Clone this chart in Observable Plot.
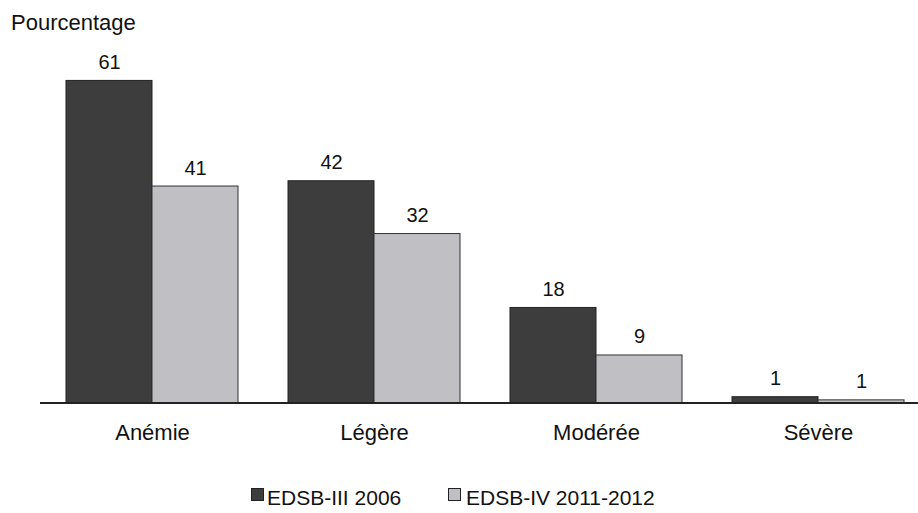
<!DOCTYPE html>
<html>
<head>
<meta charset="utf-8">
<script src="https://cdn.jsdelivr.net/npm/d3@7"></script>
<script src="https://cdn.jsdelivr.net/npm/@observablehq/plot@0.6"></script>
<style>
  html, body { margin: 0; padding: 0; background: #fff; }
  #wrap { position: relative; width: 918px; height: 513px; font-family: "Liberation Sans", Arial, sans-serif; color: #111; }
  #title { position: absolute; left: 11px; top: 12px; font-size: 22px; line-height: 1; }
  #chart { position: absolute; left: 0; top: 0; }
  .leg { position: absolute; top: 487px; font-size: 21px; line-height: 1; white-space: nowrap; }
  .sw { position: absolute; width: 11px; height: 11px; border: 1px solid #222; top: 1px; }
  .lt { position: absolute; }
</style>
</head>
<body>
<div id="wrap">
  <div id="chart"></div>
  <div id="title">Pourcentage</div>
  <div id="legend"></div>
</div>
<script>
const categories = ["Anémie", "Légère", "Modérée", "Sévère"];
const series = ["EDSB-III 2006", "EDSB-IV 2011-2012"];
const values2006 = [61, 42, 18, 1.1];
const values2011 = [41, 32, 9, 0.5];
const colors = ["#3d3d3d", "#c0c0c4"];

const rows2006 = categories.map((c, i) => ({category: c, value: values2006[i]}));
const rows2011 = categories.map((c, i) => ({category: c, value: values2011[i]}));

const half = 86;
const chart = Plot.plot({
  width: 918,
  height: 470,
  marginLeft: 40,
  marginRight: 0,
  marginTop: 59.3,
  marginBottom: 67.5,
  style: {fontFamily: "Liberation Sans, Arial, sans-serif", background: "transparent", color: "#111"},
  x: {domain: categories, range: [51.5, 918], paddingInner: 0.225, paddingOuter: 0.063, label: null},
  y: {domain: [0, 65], axis: null},
  marks: [
    Plot.barY(rows2006, {x: "category", y: "value", fill: colors[0], stroke: "#222", strokeWidth: 1, insetRight: half}),
    Plot.barY(rows2011, {x: "category", y: "value", fill: colors[1], stroke: "#333", strokeWidth: 1, insetLeft: half}),
    Plot.text(rows2006, {x: "category", y: "value", text: d => String(Math.round(d.value)), dx: -half / 2, dy: -12, lineAnchor: "bottom", fontSize: 20, fill: "#111"}),
    Plot.text(rows2011, {x: "category", y: "value", text: d => String(Math.round(d.value)), dx: half / 2, dy: -12, lineAnchor: "bottom", fontSize: 20, fill: "#111"}),
    Plot.ruleY([0], {stroke: "#222", strokeWidth: 2}),
    Plot.axisX({tickSize: 0, tickPadding: 21, fontSize: 22, label: null, fill: "#111"})
  ]
});
document.getElementById("chart").appendChild(chart);

const legendPos = [{sw: 251, tx: 267}, {sw: 448, tx: 466}];
const legend = document.getElementById("legend");
series.forEach((s, i) => {
  const sw = document.createElement("div");
  sw.className = "leg sw";
  sw.style.left = legendPos[i].sw + "px";
  sw.style.top = "488px";
  sw.style.background = colors[i];
  legend.appendChild(sw);
  const t = document.createElement("div");
  t.className = "leg";
  t.style.left = legendPos[i].tx + "px";
  t.textContent = s;
  legend.appendChild(t);
});
</script>
</body>
</html>
